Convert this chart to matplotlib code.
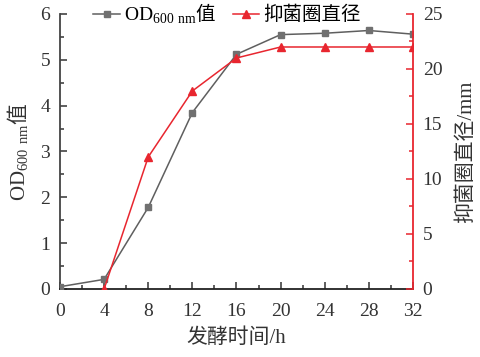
import matplotlib.pyplot as plt
from matplotlib.ticker import MultipleLocator

plt.rcParams['font.family'] = ['Liberation Serif', 'Noto Sans CJK SC']
plt.rcParams['mathtext.fontset'] = 'custom'
plt.rcParams['mathtext.rm'] = 'Liberation Serif'
plt.rcParams['mathtext.sf'] = 'Noto Sans CJK SC'

# data
time_h = [0, 4, 8, 12, 16, 20, 24, 28, 32]
od600 = [0.05, 0.21, 1.78, 3.85, 5.12, 5.55, 5.58, 5.64, 5.56]
zone_time = [4, 8, 12, 16, 20, 24, 28, 32]
zone_mm = [0, 12, 18, 21, 22, 22, 22, 22]

od_label = r'OD$_{\mathrm{600\ nm}}$$\mathsf{值}$'

grey = '#5f5f5f'
red = '#e8262f'

fig = plt.figure(figsize=(4.81, 3.57), dpi=100)
ax = fig.add_axes([0.1247, 0.1905, 0.7339, 0.7703])
ax2 = ax.twinx()

l1, = ax.plot(time_h, od600, color=grey, lw=1.1, marker='s', ms=5,
              mfc='#707070', mec='#707070', label=od_label, zorder=3)
l2, = ax2.plot(zone_time, zone_mm, color=red, lw=1.1, marker='^', ms=5.5,
               mfc=red, mec=red, label='抑菌圈直径')

ax.set_xlim(0, 32)
ax.set_ylim(0, 6)
ax2.set_ylim(0, 25)
ax.xaxis.set_major_locator(MultipleLocator(4))
ax.xaxis.set_minor_locator(MultipleLocator(2))
ax.yaxis.set_major_locator(MultipleLocator(1))
ax.yaxis.set_minor_locator(MultipleLocator(0.5))
ax2.yaxis.set_major_locator(MultipleLocator(5))
ax2.yaxis.set_minor_locator(MultipleLocator(2.5))

for a in (ax, ax2):
    a.spines['top'].set_visible(False)
ax.spines['right'].set_visible(False)
ax.spines['left'].set_color('#444444')
ax.spines['bottom'].set_color('#222222')
ax2.spines['left'].set_visible(False)
ax2.spines['bottom'].set_visible(False)
ax2.spines['right'].set_color(red)
for s in ('left', 'bottom'):
    ax.spines[s].set_linewidth(1.3)
ax2.spines['right'].set_linewidth(1.3)

ax.tick_params(which='both', direction='in', labelsize=14, colors='#333333', width=1.1, pad=7)
ax.tick_params(axis='x', pad=10)
ax.tick_params(which='major', length=5)
ax.tick_params(which='minor', length=3)
ax2.tick_params(which='both', direction='in', labelsize=14, color=red, labelcolor='#333333',
                width=1.1, pad=7)
ax2.tick_params(which='major', length=5)
ax2.tick_params(which='minor', length=3)

ax.set_xlabel('发酵时间/h', fontsize=15, color='#333333', labelpad=6)
ax.set_ylabel(od_label, fontsize=15, color='#333333', labelpad=7)
ax2.set_ylabel('抑菌圈直径/mm', fontsize=15, color='#333333', labelpad=10)

fig.legend(handles=[l1, l2], loc='center', bbox_to_anchor=(0.472, 0.962), ncol=2,
           frameon=False, fontsize=14, handlelength=1.35, handletextpad=0.2,
           columnspacing=0.9, borderpad=0)

fig.savefig('out.png', dpi=100)
